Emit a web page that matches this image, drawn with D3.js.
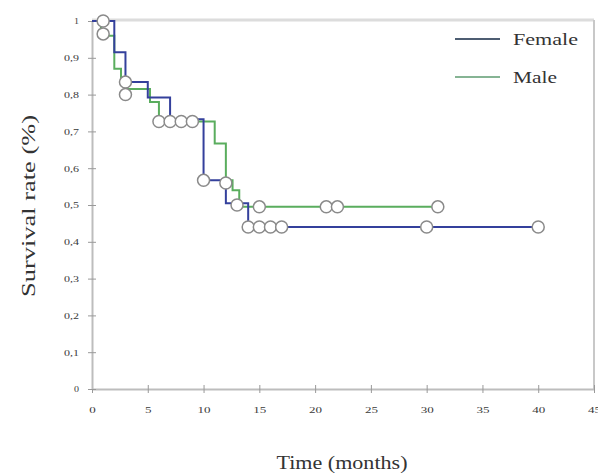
<!DOCTYPE html>
<html><head><meta charset="utf-8">
<script src="https://cdn.jsdelivr.net/npm/d3@7"></script>
<style>body{margin:0;background:#fff}svg{display:block}</style>
</head><body>
<svg id="c" width="598" height="476"></svg>
<script>
// ---- data ----
const xTicks = [0,5,10,15,20,25,30,35,40,45];
const yTicks = [0,0.1,0.2,0.3,0.4,0.5,0.6,0.7,0.8,0.9,1];
const yTickLabels = ["0","0,1","0,2","0,3","0,4","0,5","0,6","0,7","0,8","0,9","1"];
const seriesNames = ["Female","Male"];

const femaleTime = [0, 2, 3, 5, 7, 10, 12, 14, 40];
const femaleSurv = [1, 0.915, 0.834, 0.792, 0.733, 0.567, 0.505, 0.44, 0.44];
const femaleCensTime = [1, 3, 10, 13, 14, 15, 16, 17, 30, 40];
const femaleCensSurv = [1, 0.834, 0.567, 0.5, 0.44, 0.44, 0.44, 0.44, 0.44, 0.44];

const maleTime = [0, 0.8, 2, 2.6, 3, 5.2, 6, 11, 12, 12.6, 13.2, 31];
const maleSurv = [1, 0.96, 0.87, 0.84, 0.815, 0.78, 0.727, 0.667, 0.567, 0.54, 0.495, 0.495];
const maleCensTime = [1, 3, 6, 7, 8, 9, 12, 15, 21, 22, 31];
const maleCensSurv = [0.965, 0.8, 0.727, 0.727, 0.727, 0.727, 0.56, 0.495, 0.495, 0.495, 0.495];

// ---- drawing ----
const svg = d3.select("#c");
const x = d3.scaleLinear().domain([0,45]).range([92,594]);
const y = d3.scaleLinear().domain([0,1]).range([389,21]);
const serif = "'Liberation Serif','DejaVu Serif',serif";
const blue = "#34409c", green = "#5aad5e";

// frame
svg.append("line").attr("x1",x(0)).attr("x2",x(45)).attr("y1",y(1)-1).attr("y2",y(1)-1)
  .attr("stroke","#dcdcdc").attr("stroke-width",3);
svg.append("line").attr("x1",x(45)).attr("x2",x(45)).attr("y1",y(1)-1).attr("y2",y(0))
  .attr("stroke","#c8c8c8").attr("stroke-width",2);

// axes
const xAxis = d3.axisBottom(x).tickValues(xTicks).tickSizeInner(4).tickSizeOuter(0).tickPadding(14);
const gx = svg.append("g").attr("transform",`translate(0,${y(0)})`).call(xAxis);
const yAxis = d3.axisLeft(y).tickValues(yTicks).tickFormat((d,i)=>yTickLabels[i]).tickSizeInner(4).tickSizeOuter(0).tickPadding(9);
const gy = svg.append("g").attr("transform",`translate(${x(0)},0)`).call(yAxis);
[gx,gy].forEach(g=>{
  g.select(".domain").attr("stroke","#bdbdbd").attr("stroke-width",2);
  g.selectAll(".tick line").attr("stroke","#999");
  g.selectAll(".tick text").attr("font-family",serif).attr("font-size",9).attr("fill","#3a3a3a")
    .attr("lengthAdjust","spacingAndGlyphs");
});
gx.selectAll(".tick text").attr("textLength",function(){return this.textContent.length*6.5;});
gy.selectAll(".tick text").attr("textLength",function(){return this.textContent.length*5;});
gx.selectAll(".tick line").attr("y1",-4);
gy.selectAll(".tick line").attr("x1",4).attr("x2",-4);

// curves
const line = d3.line().curve(d3.curveStepAfter).x(d=>x(d[0])).y(d=>y(d[1]));
svg.append("path").datum(d3.zip(maleTime,maleSurv)).attr("d",line)
  .attr("fill","none").attr("stroke",green).attr("stroke-width",2);
svg.append("path").datum(d3.zip(femaleTime,femaleSurv)).attr("d",line)
  .attr("fill","none").attr("stroke",blue).attr("stroke-width",2);

// censor marks
const cens = d3.zip(femaleCensTime,femaleCensSurv).concat(d3.zip(maleCensTime,maleCensSurv));
svg.append("g").selectAll("circle").data(cens).join("circle")
  .attr("cx",d=>x(d[0])).attr("cy",d=>y(d[1])).attr("r",6)
  .attr("fill","#fff").attr("stroke","#8a8a8a").attr("stroke-width",1.5);

// legend
const leg = svg.append("g");
[["#4d5d72",39,65],["#86b494",77,44]].forEach((c,i)=>{
  leg.append("line").attr("x1",455).attr("x2",500).attr("y1",c[1]).attr("y2",c[1])
    .attr("stroke",c[0]).attr("stroke-width",2);
  leg.append("text").attr("x",513).attr("y",c[1]+6).text(seriesNames[i])
    .attr("textLength",c[2]).attr("lengthAdjust","spacingAndGlyphs")
    .attr("font-family",serif).attr("font-size",17).attr("fill","#333");
});

// axis titles
svg.append("text").attr("x",342).attr("y",469).attr("text-anchor","middle")
  .attr("textLength",131).attr("lengthAdjust","spacingAndGlyphs")
  .attr("font-family",serif).attr("font-size",18).attr("fill","#333").text("Time (months)");
svg.append("text").attr("transform","translate(35,206) rotate(-90)").attr("text-anchor","middle")
  .attr("textLength",182).attr("lengthAdjust","spacingAndGlyphs")
  .attr("font-family",serif).attr("font-size",18).attr("fill","#333").text("Survival rate (%)");
</script>
</body></html>
